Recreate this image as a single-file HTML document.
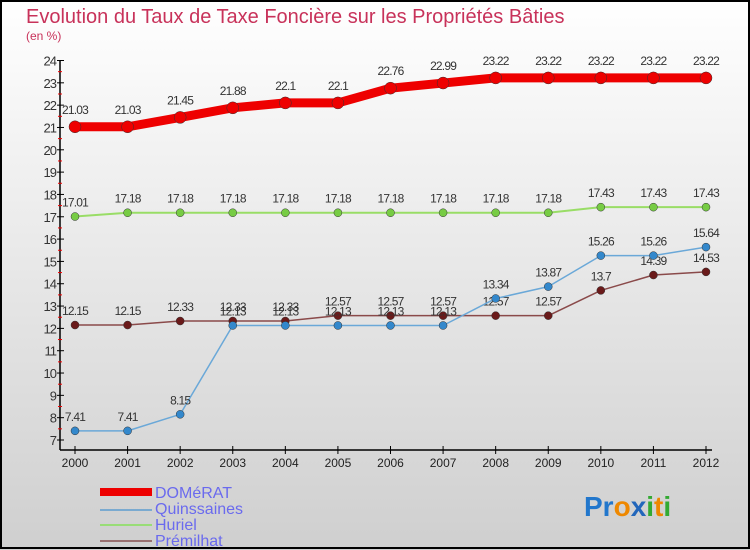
<!DOCTYPE html>
<html><head><meta charset="utf-8"><style>
body{margin:0}
svg{display:block;font-family:"Liberation Sans",sans-serif}
</style></head><body>
<svg width="750" height="550" viewBox="0 0 750 550">
<defs><linearGradient id="bg" x1="0" y1="0" x2="0" y2="1"><stop offset="0" stop-color="#ffffff"/><stop offset="1" stop-color="#cfcfcf"/></linearGradient></defs>
<rect x="0" y="0" width="750" height="550" fill="url(#bg)"/>
<rect x="1" y="1" width="748" height="547" fill="none" stroke="#000" stroke-width="2"/>
<text x="26" y="23" font-size="20" fill="#c8325a">Evolution du Taux de Taxe Foncière sur les Propriétés Bâties</text>
<text x="26" y="40" font-size="12" fill="#c8325a">(en %)</text>
<g id="axes"></g>
<g id="series"></g>
<g id="legend">
<rect x="100" y="488" width="52" height="8" fill="#ee0000"/>
<text x="155" y="498" font-size="16" fill="#6a6aee">DOMéRAT</text>
<rect x="100" y="509" width="52" height="2" fill="#7aaad0"/>
<text x="155" y="514" font-size="16" fill="#6a6aee">Quinssaines</text>
<rect x="100" y="524" width="52" height="2" fill="#99dd77"/>
<text x="155" y="530" font-size="16" fill="#6a6aee">Huriel</text>
<rect x="100" y="540" width="52" height="2" fill="#997070"/>
<text x="155" y="546" font-size="16" fill="#6a6aee">Prémilhat</text>
</g>
<text x="584" y="516" font-size="28" font-weight="bold"><tspan fill="#2277cc">Pr</tspan><tspan fill="#ee8800">o</tspan><tspan fill="#2266bb">x</tspan><tspan fill="#33aa33">i</tspan><tspan fill="#ee8800">t</tspan><tspan fill="#33aa33">i</tspan></text>
</svg>
<script>
const years=["2000","2001","2002","2003","2004","2005","2006","2007","2008","2009","2010","2011","2012"];
const yTicks=[7,8,9,10,11,12,13,14,15,16,17,18,19,20,21,22,23,24];
const domerat=[21.03,21.03,21.45,21.88,22.1,22.1,22.76,22.99,23.22,23.22,23.22,23.22,23.22];
const quinssaines=[7.41,7.41,8.15,12.13,12.13,12.13,12.13,12.13,13.34,13.87,15.26,15.26,15.64];
const huriel=[17.01,17.18,17.18,17.18,17.18,17.18,17.18,17.18,17.18,17.18,17.43,17.43,17.43];
const premilhat=[12.15,12.15,12.33,12.33,12.33,12.57,12.57,12.57,12.57,12.57,13.7,14.39,14.53];
const NS="http://www.w3.org/2000/svg";
const x=i=>75+i*(706-75)/(years.length-1);
const y=v=>440-(v-7)*(440-60.5)/17;
function mk(tag,attrs,parent){const e=document.createElementNS(NS,tag);for(const k in attrs)e.setAttribute(k,attrs[k]);parent.appendChild(e);return e;}
const axes=document.getElementById('axes');
let e=mk('line',{x1:60,y1:y(24),x2:60,y2:450,stroke:'#000','stroke-width':1.5},axes);


e=mk('line',{x1:60,y1:450,x2:712,y2:450,stroke:'#000','stroke-width':1.5},axes);


yTicks.forEach(v=>{
  mk('line',{x1:57,y1:y(v),x2:64,y2:y(v),stroke:'#000'},axes);
  if(v<24) mk('line',{x1:58,y1:y(v+0.5),x2:62,y2:y(v+0.5),stroke:'#e00'},axes);
  const t=mk('text',{x:56,y:y(v)+5,'font-size':13,'text-anchor':'end',fill:'#333','letter-spacing':'-1'},axes);
  t.textContent=v;
  
  
});
years.forEach((yr,i)=>{
  mk('line',{x1:x(i),y1:446,x2:x(i),y2:454,stroke:'#000'},axes);
  const t=mk('text',{x:x(i),y:467,'font-size':12,'text-anchor':'middle',fill:'#222'},axes);
  t.textContent=yr;
  
  
});
const sg=document.getElementById('series');
function series(name,vals,color,width,r,dot,labelDy){
  const g=mk('g',{},sg);
  
  
  const l=mk('polyline',{points:vals.map((v,i)=>x(i)+','+y(v)).join(' '),fill:'none',stroke:color,'stroke-width':width,'stroke-linejoin':'round'},g);
  
  
  vals.forEach((v,i)=>{
    const c=mk('circle',{cx:x(i),cy:y(v),r:r,fill:dot,stroke:'#333','stroke-width':0.5},g);
    
    
    const t=mk('text',{x:x(i),y:y(v)+labelDy,'font-size':12,'text-anchor':'middle',fill:'#333','letter-spacing':'-0.8'},g);
    t.textContent=v;
    
    
  });
}
series('huriel',huriel,'#99dd66',2,4,'#77cc44',-10);
series('premilhat',premilhat,'#8a4a4a',1.5,4,'#6a1a1a',-10);
series('quinssaines',quinssaines,'#6aa8d8',1.5,4,'#3388cc',-10);
series('domerat',domerat,'#ee0000',9,6,'#ee0000',-13);
</script>
</body></html>
